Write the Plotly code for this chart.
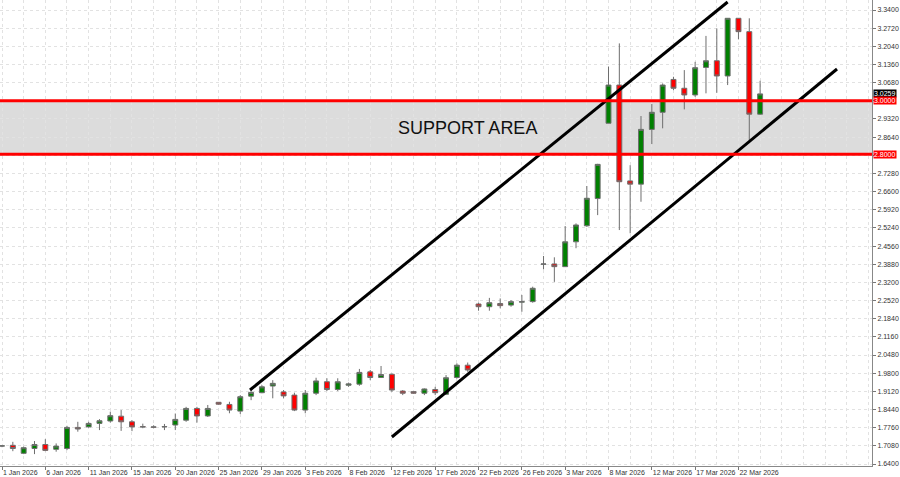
import plotly.graph_objects as go

# ---- data (bar index 0..70) ----
opens = [1.707, 1.710, 1.680, 1.698, 1.713, 1.695, 1.698, 1.777, 1.779, 1.792,
         1.801, 1.819, 1.798, 1.780, 1.779, 1.779, 1.786, 1.804, 1.848, 1.820,
         1.871, 1.863, 1.838, 1.894, 1.907, 1.932, 1.910, 1.898, 1.842, 1.905,
         1.948, 1.919, 1.935, 1.939, 1.985, 1.964, 1.976, 1.913, 1.911, 1.905,
         1.919, 1.901, 1.964, 2.010, 2.239, 2.229, 2.241, 2.235, 2.246, 2.248,
         2.388, 2.389, 2.379, 2.472, 2.532, 2.634, 2.916, 3.059, 2.700, 2.688,
         2.893, 2.957, 3.080, 3.047, 3.022, 3.125, 3.150, 3.093, 3.309, 3.259,
         2.950]
highs = [1.711, 1.723, 1.705, 1.726, 1.733, 1.717, 1.783, 1.798, 1.798, 1.808,
         1.836, 1.842, 1.804, 1.791, 1.785, 1.790, 1.829, 1.854, 1.854, 1.861,
         1.872, 1.873, 1.898, 1.917, 1.935, 1.954, 1.917, 1.907, 1.917, 1.963,
         1.961, 1.961, 1.945, 1.996, 1.992, 2.007, 1.979, 1.917, 1.913, 1.923,
         1.929, 1.973, 2.017, 2.020, 2.244, 2.262, 2.260, 2.254, 2.273, 2.304,
         2.419, 2.414, 2.531, 2.541, 2.681, 2.764, 3.128, 3.215, 2.759, 2.943,
         2.988, 3.065, 3.090, 3.115, 3.146, 3.243, 3.271, 3.309, 3.309, 3.309,
         3.075]
lows = [1.703, 1.688, 1.677, 1.677, 1.688, 1.686, 1.692, 1.761, 1.776, 1.767,
        1.795, 1.764, 1.763, 1.774, 1.774, 1.767, 1.767, 1.798, 1.795, 1.816,
        1.862, 1.830, 1.827, 1.879, 1.905, 1.886, 1.886, 1.838, 1.830, 1.898,
        1.913, 1.913, 1.929, 1.933, 1.954, 1.963, 1.910, 1.898, 1.903, 1.898,
        1.898, 1.898, 1.960, 1.985, 2.214, 2.214, 2.223, 2.229, 2.210, 2.244,
        2.369, 2.322, 2.379, 2.448, 2.528, 2.572, 2.916, 2.516, 2.504, 2.622,
        2.838, 2.897, 3.040, 2.968, 3.015, 3.028, 3.030, 3.059, 3.230, 2.853,
        2.947]
closes = [1.708, 1.698, 1.701, 1.713, 1.691, 1.707, 1.777, 1.771, 1.792, 1.802,
          1.821, 1.798, 1.779, 1.779, 1.778, 1.780, 1.807, 1.848, 1.820, 1.848,
          1.864, 1.842, 1.892, 1.908, 1.929, 1.942, 1.895, 1.842, 1.905, 1.951,
          1.919, 1.948, 1.940, 1.983, 1.964, 1.975, 1.917, 1.905, 1.905, 1.921,
          1.907, 1.963, 2.010, 1.992, 2.229, 2.244, 2.233, 2.248, 2.248, 2.298,
          2.389, 2.379, 2.472, 2.535, 2.635, 2.762, 3.059, 2.697, 2.688, 2.893,
          2.957, 3.059, 3.047, 3.022, 3.124, 3.150, 3.093, 3.309, 3.259, 2.950,
          3.0259]
bar_index = list(range(len(opens)))

date_tick_pos = [0, 4, 8, 12, 16, 20, 24, 28, 32, 36, 40, 44, 48, 52, 56, 60, 64, 68]
date_tick_labels = ["1 Jan 2026", "6 Jan 2026", "11 Jan 2026", "15 Jan 2026", "20 Jan 2026",
                    "25 Jan 2026", "29 Jan 2026", "3 Feb 2026", "8 Feb 2026", "12 Feb 2026",
                    "17 Feb 2026", "22 Feb 2026", "26 Feb 2026", "3 Mar 2026", "8 Mar 2026",
                    "12 Mar 2026", "17 Mar 2026", "22 Mar 2026"]

price_ticks = [1.640, 1.708, 1.776, 1.844, 1.912, 1.980, 2.048, 2.116, 2.184, 2.252,
               2.320, 2.388, 2.456, 2.524, 2.592, 2.660, 2.728, 2.796, 2.864, 2.932,
               3.000, 3.068, 3.136, 3.204, 3.272, 3.340]
# 2.7960 and 3.0000 are hidden behind the price boxes in the reference
price_tick_labels = ["1.6400", "1.7080", "1.7760", "1.8440", "1.9120", "1.9800", "2.0480",
                     "2.1160", "2.1840", "2.2520", "2.3200", "2.3880", "2.4560", "2.5240",
                     "2.5920", "2.6600", "2.7280", "", "2.8640", "2.9320", "", "3.0680",
                     "3.1360", "3.2040", "3.2720", "3.3400"]

support_top = 3.0
support_bottom = 2.8
last_price = 3.0259

upper_channel_x = [22.9, 67.0]
upper_channel_y = [1.917, 3.370]
lower_channel_x = [36.0, 77.1]
lower_channel_y = [1.741, 3.119]

support_label_x = 43.0
support_label_y = 2.898

# ---- figure ----
fig = go.Figure()

fig.add_shape(type="rect", xref="paper", yref="y", x0=0, x1=1,
              y0=support_bottom, y1=support_top,
              fillcolor="#dcdcdc", line=dict(width=0), layer="below")

fig.add_trace(go.Candlestick(
    x=bar_index, open=opens, high=highs, low=lows, close=closes,
    increasing=dict(fillcolor="#008000", line=dict(color="#6e6e6e", width=1)),
    decreasing=dict(fillcolor="#ff0000", line=dict(color="#6e6e6e", width=1)),
    whiskerwidth=0, showlegend=False, hoverinfo="skip"))

for y in (support_top, support_bottom):
    fig.add_shape(type="line", xref="paper", yref="y", x0=0, x1=1, y0=y, y1=y,
                  line=dict(color="#ff0000", width=3))

fig.add_trace(go.Scatter(x=upper_channel_x, y=upper_channel_y, mode="lines",
                         line=dict(color="black", width=3), showlegend=False, hoverinfo="skip"))
fig.add_trace(go.Scatter(x=lower_channel_x, y=lower_channel_y, mode="lines",
                         line=dict(color="black", width=3), showlegend=False, hoverinfo="skip"))

fig.add_annotation(x=support_label_x, y=support_label_y, text="SUPPORT AREA",
                   showarrow=False, font=dict(family="Liberation Sans, Arial", size=18, color="#111111"))

for val, bg in ((last_price, "#000000"), (support_top, "#ff0000"), (support_bottom, "#ff0000")):
    fig.add_annotation(xref="paper", x=1, y=val, yref="y", text="%.4f" % val,
                       showarrow=False, xanchor="left", yanchor="middle", xshift=1,
                       bgcolor=bg, font=dict(family="Liberation Sans, Arial", size=7, color="white"),
                       borderpad=0)

axis_font = dict(family="Liberation Sans, Arial", size=7, color="#333333")

fig.update_layout(
    width=900, height=477,
    margin=dict(l=0, r=28, t=0, b=11, autoexpand=False),
    paper_bgcolor="white", plot_bgcolor="white",
    boxgap=0.35,
    xaxis=dict(range=[-0.185, 80.33], tickvals=date_tick_pos, ticktext=date_tick_labels,
               ticklabelposition="outside right", tickfont=axis_font, tickangle=0,
               ticklabeloverflow="allow", automargin=False,
               showgrid=True, gridcolor="#e2e2e2", griddash="dot", gridwidth=1,
               minor=dict(dtick=2, tick0=0, showgrid=True, gridcolor="#e2e2e2", griddash="dot"),
               ticks="outside", ticklen=3, tickcolor="#777777",
               showline=True, linecolor="#888888", linewidth=1,
               rangeslider=dict(visible=False), zeroline=False, fixedrange=True),
    yaxis=dict(range=[1.6325, 3.3775], side="right", tickvals=price_ticks, ticktext=price_tick_labels,
               tickfont=axis_font, ticklabeloverflow="allow", automargin=False,
               showgrid=True, gridcolor="#e2e2e2", griddash="dot",
               ticks="outside", ticklen=3, tickcolor="#777777",
               showline=True, linecolor="#888888", linewidth=1, zeroline=False, fixedrange=True),
)

fig.write_html("out.html", config={"displayModeBar": False},
               post_script="document.body.style.margin='0';document.body.style.overflow='hidden';")
